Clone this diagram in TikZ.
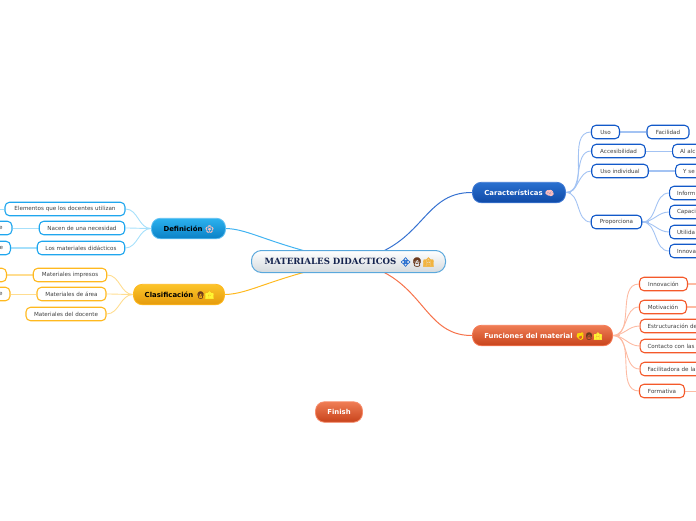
\documentclass[tikz,border=0pt]{standalone}
\usepackage{fontspec}
\setmainfont{DejaVu Sans}
\newfontfamily\titlefont{DejaVu Serif}
\newfontfamily\emojifont[FakeBold=2]{Noto Emoji}
\usetikzlibrary{backgrounds}
\definecolor{skyline}{HTML}{1FA6EE}
\definecolor{skylink}{HTML}{A6E0FB}
\definecolor{skytop}{HTML}{2CB2EE}
\definecolor{skybot}{HTML}{0A80C6}
\definecolor{sunline}{HTML}{FFB91F}
\definecolor{sunlink}{HTML}{FFDD90}
\definecolor{suntop}{HTML}{FCC52A}
\definecolor{sunbot}{HTML}{E59A0C}
\definecolor{navyline}{HTML}{1259C9}
\definecolor{navylink}{HTML}{A3C3F3}
\definecolor{navytop}{HTML}{2A70D0}
\definecolor{navybot}{HTML}{0F4AA6}
\definecolor{emberline}{HTML}{F4592A}
\definecolor{emberlink}{HTML}{FDBBA3}
\definecolor{embertop}{HTML}{EF7D55}
\definecolor{emberbot}{HTML}{C8431B}
\definecolor{rootline}{HTML}{5AA8DC}
\definecolor{rootbot}{HTML}{D4DADE}
\definecolor{roottext}{HTML}{15244F}
\definecolor{hair}{HTML}{6B3A1E}
\definecolor{school}{HTML}{F2B33D}
\newcommand{\emo}[2]{{\emojifont\textcolor{#1}{#2}}}

\begin{document}
\begin{tikzpicture}[
    x=1pt, y=-1pt,
    leaf/.style={draw, line width=1.1pt, rectangle, rounded corners=4.5pt, fill=white, minimum height=13.5pt, inner sep=0pt, font=\fontsize{5.6}{6}\selectfont, text=black!75},
    skyleaf/.style={leaf, draw=skyline},
    sunleaf/.style={leaf, draw=sunline},
    navyleaf/.style={leaf, draw=navyline},
    emberleaf/.style={leaf, draw=emberline},
    cutright/.style={anchor=west, minimum width=90pt, text width=86pt, align=left},
    cutleft/.style={anchor=east, minimum width=30pt, text width=26pt, align=right},
    branch/.style={draw, line width=0.8pt, rectangle, rounded corners=9pt, minimum height=20.5pt, inner sep=0pt, font=\fontsize{6.9}{8}\bfseries\selectfont},
    icons/.style={inner sep=0pt, font=\fontsize{7}{7}\selectfont},
    skylinkline/.style={draw=skylink, line width=0.9pt},
    sunlinkline/.style={draw=sunlink, line width=0.9pt},
    navylinkline/.style={draw=navylink, line width=0.9pt},
    emberlinkline/.style={draw=emberlink, line width=0.9pt}
]
  \useasboundingbox (0,0) rectangle (696,520);
  \clip (0,0) rectangle (696,520);

  % Central node
  \node (root) [draw=rootline, line width=1pt, rectangle, rounded corners=10pt, top color=white, bottom color=rootbot, minimum width=194pt, minimum height=22pt, inner sep=0pt, text=roottext, font=\fontsize{8.6}{9}\bfseries\titlefont] at (348.5,261.5) {\hspace{-36pt}MATERIALES DIDACTICOS};
  \node (rooticons) [icons, font=\fontsize{9}{9}\selectfont] at (417,262) {\emo{navytop}{💠}\emo{hair}{👩}\emo{school}{🏫}};

  % Main branches
  \node (def) [branch, draw=skyline!70, top color=skytop, bottom color=skybot, minimum width=74pt, text=black] at (188.5,228.5) {\hspace{-11pt}Definición};
  \node (deficon) [icons] at (209.5,229) {\emo{pink}{🌸}};
  \node (cla) [branch, draw=sunline, top color=suntop, bottom color=sunbot, minimum width=91pt, text=black] at (179,294.5) {\hspace{-20pt}Clasificación};
  \node (claicons) [icons] at (205,295) {\emo{hair}{👩}\emo{yellow!80}{🏫}};
  \node (car) [branch, draw=navyline!80, top color=navytop, bottom color=navybot, minimum width=93pt, text=white] at (519,192.5) {\hspace{-11pt}Características};
  \node (caricon) [icons] at (549.5,193) {\emo{pink}{🧠}};
  \node (fun) [branch, draw=emberline!80, top color=embertop, bottom color=emberbot, minimum width=140pt, text=white] at (542.5,335.5) {\hspace{-28pt}Funciones del material};
  \node (funicons) [icons] at (589,336) {\emo{yellow!80!orange}{👏}\emo{hair}{👩}\emo{yellow!80}{🏫}};
  \node (finish) [branch, draw=emberline!70, top color=embertop, bottom color=emberbot, minimum width=47pt, text=white] at (339,412) {Finish};

  % Leaves of Definicion
  \node (elementos) [skyleaf, minimum width=120pt] at (65,209) {Elementos que los docentes utilizan};
  \node (nacen) [skyleaf, minimum width=85.5pt] at (82,228) {Nacen de una necesidad};
  \node (losmat) [skyleaf, minimum width=87.5pt] at (81,248) {Los materiales didácticos};
  \node (nacenend) [skyleaf, cutleft] at (12.5,228) {e\kern7.4pt};
  \node (losmatend) [skyleaf, cutleft] at (11,248) {e\kern5.4pt};

  % Leaves of Clasificacion
  \node (impresos) [sunleaf, minimum width=73.5pt] at (70,275) {Materiales impresos};
  \node (area) [sunleaf, minimum width=69pt] at (71.5,294) {Materiales de área};
  \node (docente) [sunleaf, minimum width=80pt] at (66,314) {Materiales del docente};
  \node (impresosend) [sunleaf, anchor=east, minimum width=30pt] at (7,275) {};
  \node (areaend) [sunleaf, cutleft] at (10.5,294) {e\kern5.4pt};

  % Leaves of Caracteristicas
  \node (uso) [navyleaf, minimum width=28pt] at (605.5,132) {Uso};
  \node (facilidad) [navyleaf, minimum width=42pt] at (668,132) {Facilidad};
  \node (acceso) [navyleaf, minimum width=53.5pt] at (618.5,151) {Accesibilidad};
  \node (alcance) [navyleaf, cutright] at (672,151) {\hspace{5.5pt}Al alc};
  \node (usoind) [navyleaf, minimum width=56.5pt] at (620,171) {Uso individual};
  \node (yse) [navyleaf, cutright] at (675,171) {\hspace{5.5pt}Y se};
  \node (prop) [navyleaf, minimum width=50.5pt] at (616.5,222) {Proporciona};
  \node (inform) [navyleaf, cutright] at (669,193) {\hspace{5.5pt}Inform};
  \node (capaci) [navyleaf, cutright] at (669,212) {\hspace{5.5pt}Capaci};
  \node (utilida) [navyleaf, cutright] at (669,232) {\hspace{5.5pt}Utilida};
  \node (innova) [navyleaf, cutright] at (669,251) {\hspace{5.5pt}Innova};

  % Leaves of Funciones
  \node (innov) [emberleaf, minimum width=48pt] at (663.5,284) {Innovación};
  \node (motiv) [emberleaf, minimum width=47pt] at (663,307) {Motivación};
  \node (estruc) [emberleaf, cutright] at (639.5,326) {\hspace{5.5pt}Estructuración de};
  \node (contacto) [emberleaf, cutright] at (639.5,346) {\hspace{5.5pt}Contacto con las};
  \node (facil) [emberleaf, cutright] at (639.5,369) {\hspace{5.5pt}Facilitadora de la};
  \node (forma) [emberleaf, minimum width=45pt] at (662,391) {Formativa};

  \coordinate (edgeleft) at (0,209);
  \coordinate (edgeinnov) at (696,284);
  \coordinate (edgemotiv) at (696,307);
  \coordinate (edgeforma) at (696,391);

  \begin{scope}[on background layer]
    % Arrows from the centre
    \draw [draw=skyline!85, line width=1pt] (root.center) .. controls (270,245) and (250,229) .. (def.east);
    \draw [draw=sunline, line width=1pt] (root.center) .. controls (270,278) and (250,294) .. (cla.east);
    \draw [draw=navyline!85, line width=1pt] (root.center) .. controls (425,250) and (420,192) .. (car.west);
    \draw [draw=emberline!85, line width=1pt] (root.center) .. controls (425,272) and (420,336) .. (fun.west);

    % Definicion
    \foreach \leafname in {elementos, nacen, losmat}
      \draw [skylinkline] (def.west) to[out=180, in=0] (\leafname.east);
    \draw [skylinkline, line width=1.6pt] (def.west) -- +(-5,0);
    \draw [skylinkline] (elementos.west) -- (edgeleft);
    \draw [skylinkline] (nacen.west) -- (nacenend.east);
    \draw [skylinkline, line width=2pt] (losmat.west) -- (losmatend.east);

    % Clasificacion
    \foreach \leafname in {impresos, area, docente}
      \draw [sunlinkline] (cla.west) to[out=180, in=0] (\leafname.east);
    \draw [sunlinkline, line width=1.6pt] (cla.west) -- +(-5,0);
    \draw [sunlinkline, line width=2pt] (impresos.west) -- (impresosend.east);
    \draw [sunlinkline] (area.west) -- (areaend.east);

    % Caracteristicas
    \foreach \leafname in {uso, acceso, usoind, prop}
      \draw [navylinkline] (car.east) to[out=0, in=180] (\leafname.west);
    \draw [navylinkline, line width=1.6pt] (car.east) -- +(5,0);
    \draw [navylinkline, line width=2pt] (uso.east) -- (facilidad.west);
    \draw [navylinkline] (acceso.east) -- (alcance.west);
    \draw [navylinkline, line width=2pt] (usoind.east) -- (yse.west);
    \foreach \leafname in {inform, capaci, utilida, innova}
      \draw [navylinkline] (prop.east) to[out=0, in=180] (\leafname.west);
    \draw [navylinkline, line width=1.6pt] (prop.east) -- +(7,0);

    % Funciones
    \foreach \leafname in {innov, motiv, estruc, contacto, facil, forma}
      \draw [emberlinkline] (fun.east) to[out=0, in=180] (\leafname.west);
    \draw [emberlinkline, line width=1.6pt] (fun.east) -- +(7,0);
    \draw [emberlinkline, line width=1.6pt] (innov.east) -- (edgeinnov);
    \draw [emberlinkline, line width=1.6pt] (motiv.east) -- (edgemotiv);
    \draw [emberlinkline] (forma.east) -- (edgeforma);
  \end{scope}
\end{tikzpicture}
\end{document}
